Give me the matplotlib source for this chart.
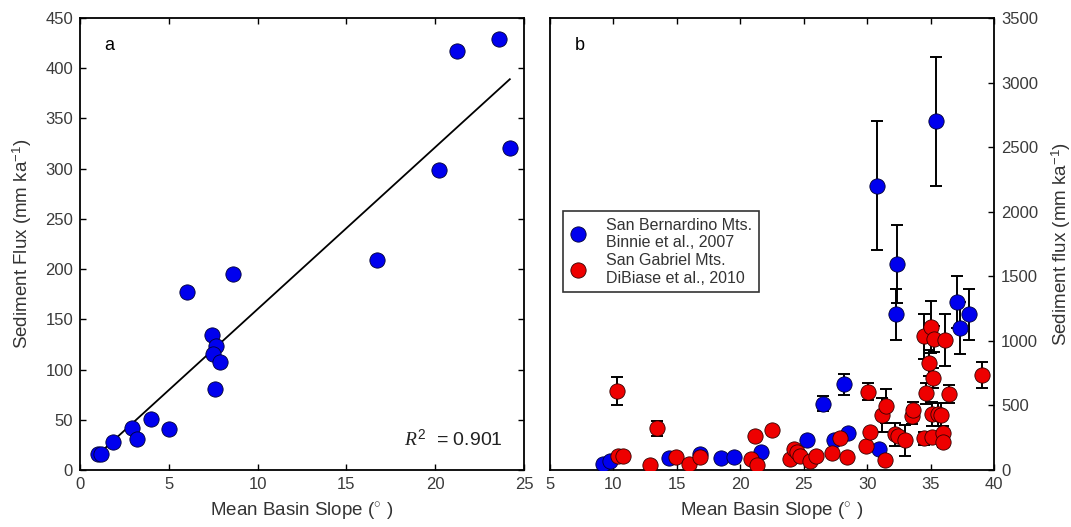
import numpy as np
import matplotlib.pyplot as plt

plt.rcParams['font.family'] = ['Liberation Sans', 'DejaVu Sans']
plt.rcParams['mathtext.fontset'] = 'custom'
plt.rcParams['mathtext.rm'] = 'Liberation Sans'
plt.rcParams['mathtext.it'] = 'Liberation Serif:italic'

# Panel a: San Bernardino basins, slope vs flux
slope_a = [1.0, 1.2, 1.85, 2.9, 3.2, 4.0, 5.0, 6.0, 8.6, 7.45, 7.65, 7.5, 7.9, 7.6,
           16.7, 20.2, 21.2, 23.6, 24.2]
flux_a = [16, 16, 28, 42, 31, 51, 41, 177, 195, 134, 123, 116, 108, 81,
          209, 299, 417, 429, 321]
fit_x = [1.05, 24.2]
fit_y = [16, 389]

# Panel b: San Bernardino (Binnie et al., 2007)
sb_slope = [9.2, 9.7, 14.4, 16.8, 18.5, 19.5, 21.6, 25.3, 26.5, 27.4, 28.2, 28.5,
            30.75, 30.95, 32.35, 32.25, 35.45, 37.05, 37.3, 38.05]
sb_flux = [45, 70, 90, 125, 95, 100, 140, 230, 515, 230, 665, 285,
           2200, 165, 1595, 1205, 2700, 1300, 1100, 1205]
sb_err = [0, 0, 0, 0, 0, 0, 0, 0, 60, 0, 80, 0,
          500, 0, 300, 200, 500, 200, 200, 200]

# Panel b: San Gabriel (DiBiase et al., 2010)
sg_slope = [10.3, 10.4, 10.75, 12.9, 13.4, 14.9, 15.95, 16.85, 20.85, 21.2, 21.35,
            22.5, 23.9, 24.25, 24.5, 24.7, 25.5, 26.0, 27.25, 27.85, 28.45, 29.9,
            30.05, 30.2, 31.15, 31.5, 31.4, 32.2, 32.4, 33.0, 33.55, 33.6, 34.45,
            34.45, 34.65, 34.85, 35.0, 35.1, 35.2, 35.1, 35.3, 35.6, 35.8, 36.0,
            36.0, 36.1, 36.45, 39.05]
sg_flux = [612, 112, 112, 38, 322, 102, 46, 98, 84, 265, 36,
           311, 82, 162, 140, 112, 68, 110, 130, 245, 102, 186,
           608, 292, 428, 495, 78, 278, 262, 232, 420, 466, 245,
           1035, 595, 828, 1110, 435, 712, 258, 1015, 433, 428, 285,
           218, 1005, 592, 738]
sg_err = [110, 0, 0, 0, 55, 0, 0, 0, 0, 0, 0,
          0, 0, 0, 0, 0, 0, 0, 0, 0, 0, 0,
          65, 0, 130, 130, 0, 90, 0, 120, 60, 60, 50,
          175, 80, 100, 200, 90, 80, 40, 100, 90, 90, 60,
          40, 200, 70, 100]

fig = plt.figure(figsize=(10.71, 5.27), dpi=100)
ax1 = fig.add_axes([0.0747, 0.108, 0.4146, 0.858])
ax2 = fig.add_axes([0.5135, 0.108, 0.4146, 0.858])

tick_kw = dict(direction='in', length=4, width=1, labelsize=12,
               labelcolor='#3a3a3a', pad=5)
txt = '#333333'

# ---- panel a ----
ax1.plot(fit_x, fit_y, color='black', lw=1.3, zorder=2)
ax1.plot(slope_a, flux_a, 'o', ms=11, mfc='#0000ee', mec='#000033', mew=0.6, zorder=3)
ax1.set_xlim(0, 25)
ax1.set_ylim(0, 450)
ax1.set_xticks(np.arange(0, 26, 5))
ax1.set_yticks(np.arange(0, 451, 50))
ax1.tick_params(top=True, right=True, **tick_kw)
ax1.set_xlabel('Mean Basin Slope ($^{\\circ}$ )', fontsize=13.5, color=txt, labelpad=6)
ax1.set_ylabel('Sediment Flux (mm ka$^{-1}$)', fontsize=13.5, color=txt, labelpad=8)
ax1.text(0.055, 0.94, 'a', transform=ax1.transAxes, fontsize=13, va='center')
ax1.text(0.73, 0.068, '$\\mathit{R}^{2}$  = 0.901', transform=ax1.transAxes,
         fontsize=14, va='center', color='#222222')

# ---- panel b ----
ax2.errorbar(sb_slope, sb_flux, yerr=sb_err, fmt='none', ecolor='black',
             elinewidth=1.4, capsize=4, capthick=1.4, zorder=2)
ax2.errorbar(sg_slope, sg_flux, yerr=sg_err, fmt='none', ecolor='black',
             elinewidth=1.4, capsize=4, capthick=1.4, zorder=2)
ax2.plot(sb_slope, sb_flux, 'o', ms=11, mfc='#0000ee', mec='#000033', mew=0.6,
         zorder=3, label='San Bernardino Mts.\nBinnie et al., 2007')
ax2.plot(sg_slope, sg_flux, 'o', ms=11, mfc='#ee0000', mec='#330000', mew=0.6,
         zorder=4, label='San Gabriel Mts.\nDiBiase et al., 2010')
ax2.set_xlim(5, 40)
ax2.set_ylim(0, 3500)
ax2.set_xticks(np.arange(5, 41, 5))
ax2.set_yticks(np.arange(0, 3501, 500))
ax2.yaxis.tick_right()
ax2.yaxis.set_label_position('right')
ax2.tick_params(top=True, left=False, right=True, **tick_kw)
ax2.set_xlabel('Mean Basin Slope ($^{\\circ}$ )', fontsize=13.5, color=txt, labelpad=6)
ax2.set_ylabel('Sediment flux (mm ka$^{-1}$)', fontsize=13.5, color=txt, labelpad=8)
ax2.text(0.055, 0.94, 'b', transform=ax2.transAxes, fontsize=13, va='center')
leg = ax2.legend(loc='upper left', bbox_to_anchor=(0.012, 0.59), fontsize=11.5,
                 frameon=True, fancybox=False, edgecolor='black', handletextpad=1.3,
                 borderpad=0.4, labelspacing=0.2, handlelength=1.0)
leg.get_frame().set_linewidth(1.2)
for t in leg.get_texts():
    t.set_color(txt)

for ax in (ax1, ax2):
    for s in ax.spines.values():
        s.set_linewidth(1.3)

fig.savefig('out.png', dpi=100)
